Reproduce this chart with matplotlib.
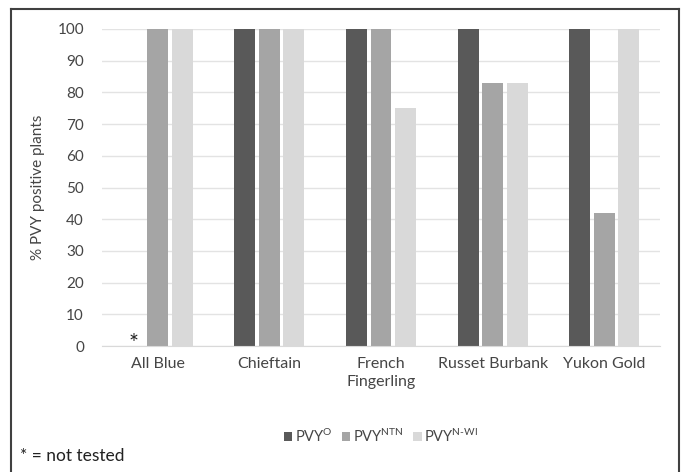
import matplotlib.pyplot as plt
import numpy as np
from matplotlib.lines import Line2D

plt.rcParams['font.family'] = ['Lato', 'DejaVu Sans']
plt.rcParams['mathtext.fontset'] = 'custom'
plt.rcParams['mathtext.rm'] = 'Lato'
plt.rcParams['mathtext.it'] = 'Lato'

cultivares = ['All Blue', 'Chieftain', 'French\nFingerling', 'Russet Burbank', 'Yukon Gold']
pvy_o = [0, 100, 100, 100, 100]      # All Blue nao testado
pvy_ntn = [100, 100, 100, 83, 42]
pvy_nwi = [100, 100, 75, 83, 100]
series = [r'PVY$^{\mathrm{O}}$', r'PVY$^{\mathrm{NTN}}$', r'PVY$^{\mathrm{N\text{-}WI}}$']
cores = ['#595959', '#a5a5a5', '#d9d9d9']
texto = '#454545'

fig = plt.figure(figsize=(6.84, 4.72), dpi=100)
ax = fig.add_axes([102/684, 1 - 346/472, 558/684, 317/472])

x = np.arange(len(cultivares))
larg = 0.188
passo = 0.22
for i, vals in enumerate([pvy_o, pvy_ntn, pvy_nwi]):
    ax.bar(x + (i - 1)*passo, vals, larg, color=cores[i], label=series[i], zorder=2)

ax.set_xlim(-0.5, len(cultivares) - 0.5)
ax.set_ylim(0, 100)
ax.set_yticks(range(0, 101, 10))
ax.yaxis.grid(True, color='#e3e3e3', linewidth=1, zorder=0)
for s in ['top', 'right', 'left']:
    ax.spines[s].set_visible(False)
ax.spines['bottom'].set_color('#d9d9d9')
ax.tick_params(axis='y', length=0, labelsize=11, colors=texto, pad=13)
ax.tick_params(axis='x', length=0, labelsize=11.5, colors=texto, pad=8)
ax.set_xticks(x)
ax.set_xticklabels(cultivares, va='top', linespacing=1.35)
ax.set_ylabel('% PVY positive plants', fontsize=11, color=texto, labelpad=9)

# asterisco no lugar da barra nao testada
ax.text(x[0] - passo, -2.5, '*', ha='center', va='bottom', fontsize=17, color='#222222')

leg = ax.legend(loc='upper center', bbox_to_anchor=(0.5, -0.215), ncol=3, frameon=False,
                fontsize=10.5, handlelength=0.6, handleheight=0.6, handletextpad=0.2,
                columnspacing=0.6)
for t in leg.get_texts():
    t.set_color(texto)

fig.text(20/684, 1 - 456/472, '* = not tested', fontsize=12.5, color='#222222', va='center')

# moldura
kw = dict(color='#404040', linewidth=1.5, transform=fig.transFigure)
fig.add_artist(Line2D([11/684, 11/684], [0, 1 - 9/472], **kw))
fig.add_artist(Line2D([11/684, 679/684], [1 - 9/472, 1 - 9/472], **kw))
fig.add_artist(Line2D([679/684, 679/684], [0, 1 - 9/472], **kw))

fig.savefig('out.png', dpi=100)
